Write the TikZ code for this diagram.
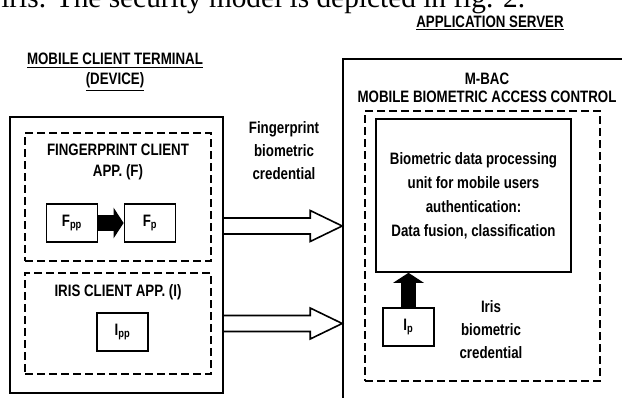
\documentclass[tikz,border=0pt]{standalone}
\usepackage{fontspec}
\setmainfont{Liberation Sans}[FakeStretch=0.805]
\newfontfamily\parafont{Liberation Serif}
\usetikzlibrary{calc,arrows.meta}
\tikzset{
  solidbox/.style={draw, line width=1.2pt, inner sep=0pt},
  dashbox/.style={draw, line width=1.2pt, dash pattern=on 6pt off 3pt, inner sep=0pt},
  smallbox/.style={draw, line width=1.1pt, inner sep=0pt, minimum width=38.5pt, minimum height=28.5pt,
    font=\fontsize{12.4}{14}\selectfont\bfseries},
  caption/.style={font=\fontsize{12.4}{#1}\selectfont\bfseries, align=center, inner sep=0pt},
  caption/.default=15.5,
  fatarrow/.style={line width=11.5pt, -{Triangle[length=7.5pt, width=23pt, line width=0pt]}},
  openarrow/.style={line width=1.2pt, line join=miter},
}
% hollow block arrow from #1 to its tip #2 (horizontal)
\newcommand{\openarrow}[2]{%
  \draw[openarrow] ($(#1)+(0,-8)$) -- ($(#2)+(-32,-8)$) -- ($(#2)+(-32,-15.5)$) -- (#2)
    -- ($(#2)+(-32,15.5)$) -- ($(#2)+(-32,8)$) -- ($(#1)+(0,8)$);
}

\begin{document}
\begin{tikzpicture}[x=0.75pt, y=-0.75pt]
  \useasboundingbox (0,0) rectangle (622,397);
  \clip (0,0) rectangle (622,397);
  % ---------------------------------------------------------------- running text cut at the top
  \node[anchor=base west, inner sep=0pt, font=\parafont\fontsize{22}{26}\selectfont] (toptext) at (1,7)
    {iris. The security model is depicted in fig. 2.};
  % ---------------------------------------------------------------- mobile client terminal
  \node[caption=15, anchor=north] (devtitle) at (115,53)
    {\underline{MOBILE CLIENT TERMINAL}\\ \underline{(DEVICE)}};
  \node[solidbox, minimum width=159.75pt, minimum height=207pt] (dev) at (116.5,255) {};
  \node[dashbox, minimum width=139.5pt, minimum height=96pt] (fapp) at (118,197) {};
  \node[caption=15.4, anchor=north] (fapptitle) at (118,144) {FINGERPRINT CLIENT\\ APP. (F)};
  \node[smallbox] (fpp) at (72,223) {F\textsubscript{pp}};
  \node[smallbox] (fp) at (150,223) {F\textsubscript{p}};
  \draw[fatarrow] (fpp) -- (fp);
  \node[dashbox, minimum width=139.5pt, minimum height=75.75pt] (iapp) at (118,323.5) {};
  \node[caption, anchor=base] (iapptitle) at (118,296) {IRIS CLIENT APP. (I)};
  \node[smallbox, minimum width=38.25pt] (ipp) at (122.5,332) {I\textsubscript{pp}};
  % ---------------------------------------------------------------- application server
  \node[caption, anchor=base] (srvtitle) at (490,27.5) {\underline{APPLICATION SERVER}};
  \node[solidbox, minimum width=237.75pt, minimum height=278.25pt] (srv) at (501.5,244.5) {};
  \node[caption=13.5, anchor=north] (mbactitle) at (487,72.5) {M-BAC\\ MOBILE BIOMETRIC ACCESS CONTROL};
  \node[dashbox, minimum width=176.25pt, minimum height=202.5pt] (mbac) at (482.5,246) {};
  \node[solidbox, minimum width=146.25pt, minimum height=114.75pt] (unit) at (473.5,195.5) {};
  \node[caption=18, anchor=north] (unittext) at (unit.center |- 0,152.5)
    {Biometric data processing\\ unit for mobile users\\ authentication:\\ Data fusion, classification};
  \node[smallbox, minimum width=38.25pt] (ip) at (408.5,327) {I\textsubscript{p}};
  \draw[fatarrow] (ip.north) -- (ip.north |- unit.south);
  \node[caption=17.25, anchor=north] (icred) at (491,300) {Iris\\ biometric\\ credential};
  % ---------------------------------------------------------------- credentials sent to the server
  \coordinate (fy) at (0,226);
  \coordinate (iy) at (0,323.5);
  \openarrow{dev.east |- fy}{srv.west |- fy}
  \openarrow{dev.east |- iy}{srv.west |- iy}
  \node[caption=17.25, anchor=north] (fcred) at (284,121) {Fingerprint\\ biometric\\ credential};
\end{tikzpicture}
\end{document}
